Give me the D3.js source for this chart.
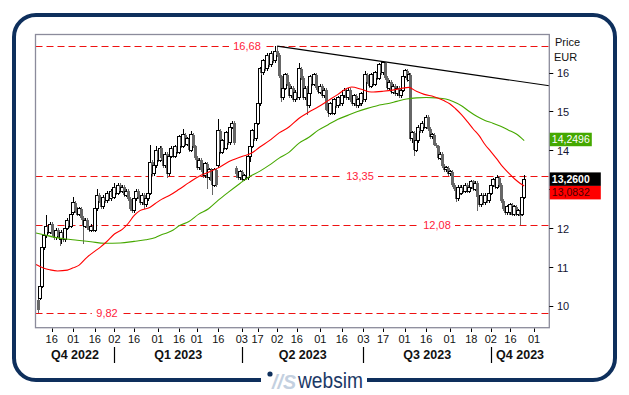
<!DOCTYPE html>
<html>
<head>
<meta charset="utf-8">
<script src="https://cdn.jsdelivr.net/npm/d3@7"></script>
<style>
body { margin: 0; background: #fff; }
svg { display: block; font-family: "Liberation Sans", Arial, sans-serif; }
</style>
</head>
<body>
<svg id="chart" width="629" height="395"></svg>
<script>
// Daily candles, one per trading day (index 0 = 7 Nov 2022 ... 248 = 24 Oct 2023)
var opens = [
  10.15,10.2,10.5,11.5,11.8,12.05,11.9,12.1,11.85,11.75,
  11.95,11.8,11.7,11.9,11.7,12.0,12.2,12.05,12.4,12.65,
  12.45,12.35,12.5,12.25,12.05,12.2,12.0,11.95,12.05,11.95,
  12.5,12.85,12.7,12.55,12.8,12.7,12.9,12.75,12.95,12.8,
  13.05,12.9,13.1,12.95,13.05,12.85,12.95,12.75,12.5,12.45,
  12.75,12.95,12.8,12.65,12.85,12.6,12.75,12.9,13.7,13.4,
  13.6,14.0,13.75,14.05,13.8,13.6,13.9,13.4,13.85,14.05,
  13.85,14.1,13.95,14.35,14.1,14.4,14.15,14.3,14.0,14.4,
  14.1,13.8,13.55,13.75,13.5,13.35,13.65,13.3,13.5,13.2,
  13.1,13.5,13.6,14.5,13.95,14.25,14.05,14.45,14.2,14.6,
  14.7,13.55,13.4,13.3,13.45,13.25,13.35,13.3,13.85,14.1,
  14.5,14.3,14.7,15.2,16.1,16.0,16.3,16.1,16.45,16.2,
  16.5,16.3,16.55,16.45,15.9,15.35,15.6,15.95,15.7,15.4,
  15.6,15.3,15.5,15.35,16.1,15.85,15.35,15.6,15.15,15.45,
  15.9,15.7,15.95,15.6,15.5,15.65,15.4,15.55,15.05,14.95,
  15.2,14.95,15.3,15.15,15.35,15.2,15.4,15.55,15.35,15.55,
  15.3,15.2,15.4,15.15,15.3,15.2,15.45,15.3,15.95,15.75,
  15.65,15.95,15.7,16.0,15.85,16.2,16.0,16.25,15.85,15.6,
  15.75,15.5,15.65,15.45,15.6,15.4,15.55,15.9,16.05,15.8,
  15.95,14.3,14.45,14.0,14.25,14.6,14.5,14.7,14.6,14.85,
  14.55,14.35,14.4,14.15,14.1,13.8,13.9,13.6,13.5,13.55,
  13.4,13.45,13.1,13.0,12.75,13.05,12.9,13.05,12.95,13.1,
  12.95,13.05,13.2,13.0,13.15,12.8,12.6,12.85,12.65,12.85,
  12.7,12.9,13.1,13.25,13.05,13.3,13.1,12.7,12.5,12.4,
  12.55,12.4,12.6,12.35,12.55,12.35,12.45,12.35,12.8
];
var highs = [
  10.2,10.55,11.55,12.0,12.34,12.1,12.15,12.15,11.95,12.0,
  12.0,11.85,11.95,11.95,12.05,12.25,12.25,12.45,12.8,12.7,
  12.55,12.55,12.55,12.3,12.25,12.25,12.05,12.1,12.1,12.55,
  13.0,12.9,12.75,12.85,12.85,12.95,12.95,13.0,13.0,13.15,
  13.1,13.15,13.15,13.1,13.1,13.0,13.0,12.8,12.6,12.8,
  13.0,13.0,12.85,12.9,12.9,12.8,12.95,14.15,13.75,13.65,
  14.1,14.05,14.1,14.1,13.85,13.95,13.95,13.9,14.1,14.1,
  14.15,14.15,14.4,14.4,14.55,14.45,14.35,14.35,14.5,14.45,
  14.15,13.85,13.8,13.8,13.55,13.7,13.7,13.55,13.55,13.25,
  13.55,13.55,14.8,14.55,14.3,14.3,14.5,14.5,14.65,14.75,
  14.75,13.6,13.45,13.5,13.5,13.4,13.4,13.9,14.15,14.55,
  14.55,14.75,15.25,16.15,16.15,16.35,16.35,16.5,16.5,16.55,
  16.55,16.68,16.68,16.5,15.95,15.65,16.0,16.0,15.75,15.65,
  15.65,15.55,15.55,16.25,16.15,15.9,15.65,15.65,15.5,15.95,
  15.95,16.0,16.0,15.65,15.7,15.7,15.6,15.6,15.1,15.25,
  15.25,15.35,15.35,15.4,15.4,15.45,15.6,15.6,15.6,15.6,
  15.35,15.45,15.45,15.35,15.35,15.5,15.5,16.05,16.0,15.8,
  16.0,16.0,16.05,16.05,16.25,16.25,16.3,16.28,15.9,15.8,
  15.8,15.7,15.7,15.65,15.65,15.6,15.95,16.1,16.1,16.0,
  16.0,14.5,14.5,14.3,14.65,14.65,14.75,14.75,14.9,14.9,
  14.6,14.45,14.45,14.2,14.15,13.95,13.95,13.65,13.6,13.6,
  13.5,13.5,13.15,13.05,13.1,13.1,13.1,13.1,13.15,13.15,
  13.1,13.25,13.25,13.2,13.2,12.85,12.9,12.9,12.9,12.9,
  12.95,13.15,13.3,13.3,13.37,13.35,13.15,12.75,12.55,12.6,
  12.6,12.65,12.65,12.6,12.6,12.5,12.5,12.85,13.37
];
var lows = [
  9.82,10.15,10.45,11.45,11.75,11.85,11.85,11.8,11.7,11.7,
  11.75,11.55,11.6,11.65,11.65,11.95,12.0,12.0,12.35,12.4,
  12.3,12.3,12.2,11.6,12.0,11.95,11.9,11.9,11.9,11.9,
  12.45,12.65,12.5,12.5,12.65,12.65,12.7,12.7,12.75,12.75,
  12.85,12.85,12.9,12.9,12.8,12.8,12.7,12.45,12.4,12.4,
  12.7,12.75,12.6,12.6,12.5,12.55,12.7,12.85,13.35,13.35,
  13.55,13.7,13.7,13.75,13.55,13.55,13.3,13.35,13.8,13.8,
  13.8,13.9,13.9,14.05,14.05,14.1,14.1,13.95,13.95,14.05,
  13.75,13.5,13.5,13.45,13.3,13.3,13.0,13.25,13.15,12.85,
  13.05,13.05,13.55,13.9,13.9,14.0,14.0,14.15,14.15,14.55,
  14.15,13.3,13.25,13.25,13.2,13.2,13.25,13.25,13.7,14.05,
  14.25,14.25,14.65,15.15,15.95,15.95,16.05,16.05,16.15,16.15,
  16.25,16.25,16.4,15.85,15.25,15.3,15.55,15.65,15.35,15.35,
  15.25,15.25,15.3,15.3,15.8,15.3,15.3,14.9,15.1,15.4,
  15.65,15.65,15.55,15.45,15.45,15.35,15.35,15.0,14.85,14.9,
  14.9,14.9,15.1,15.1,15.15,15.15,15.35,15.3,15.3,15.25,
  15.15,15.15,15.1,15.1,15.15,15.15,15.25,15.25,15.7,15.6,
  15.6,15.65,15.65,15.8,15.8,15.95,15.95,15.8,15.55,15.55,
  15.45,15.45,15.4,15.4,15.35,15.35,15.5,15.85,15.75,15.75,
  14.25,14.2,13.85,13.95,14.2,14.45,14.45,14.55,14.55,14.5,
  14.3,14.3,14.1,14.05,13.75,13.75,13.55,13.45,13.45,13.35,
  13.35,13.05,12.95,12.68,12.7,12.85,12.85,12.9,12.9,12.9,
  12.9,13.0,12.95,12.95,12.45,12.55,12.55,12.6,12.6,12.65,
  12.65,12.85,13.05,13.0,13.0,13.05,12.65,12.45,12.35,12.35,
  12.35,12.35,12.3,12.3,12.3,12.3,12.08,12.3,12.75
];
var closes = [
  9.9,10.5,11.5,11.82,12.05,11.9,12.1,11.85,11.75,11.95,
  11.8,11.7,11.9,11.7,12.0,12.2,12.05,12.35,12.65,12.45,
  12.35,12.5,12.25,12.05,12.2,12.0,11.95,12.05,11.95,12.5,
  12.85,12.7,12.55,12.8,12.7,12.9,12.75,12.95,12.8,13.05,
  12.9,13.1,12.95,13.05,12.85,12.95,12.75,12.5,12.45,12.75,
  12.95,12.8,12.65,12.85,12.6,12.75,12.9,13.7,13.4,13.6,
  14.0,13.75,14.05,13.8,13.6,13.9,13.4,13.85,14.05,13.85,
  14.1,13.95,14.35,14.1,14.4,14.15,14.3,14.0,14.4,14.1,
  13.8,13.55,13.75,13.5,13.35,13.65,13.3,13.5,13.2,13.1,
  13.5,13.1,14.5,13.95,14.25,14.05,14.45,14.2,14.6,14.7,
  14.2,13.4,13.3,13.45,13.25,13.35,13.3,13.85,14.1,14.5,
  14.3,14.7,15.2,16.1,16.0,16.3,16.1,16.45,16.2,16.5,
  16.3,16.55,16.45,15.9,15.35,15.6,15.95,15.7,15.4,15.6,
  15.3,15.5,15.35,16.1,15.85,15.35,15.6,15.15,15.45,15.9,
  15.7,15.95,15.6,15.5,15.65,15.4,15.55,15.05,14.95,15.2,
  14.95,15.3,15.15,15.35,15.2,15.4,15.55,15.35,15.55,15.3,
  15.2,15.4,15.15,15.3,15.2,15.45,15.3,15.95,15.75,15.65,
  15.95,15.7,16.0,15.85,16.2,16.0,16.25,15.85,15.6,15.75,
  15.5,15.65,15.45,15.6,15.4,15.55,15.9,16.05,15.8,15.95,
  14.3,14.45,14.0,14.25,14.6,14.5,14.7,14.6,14.85,14.55,
  14.35,14.4,14.15,14.1,13.8,13.9,13.6,13.5,13.55,13.4,
  13.45,13.1,13.0,12.75,13.05,12.9,13.05,12.95,13.1,12.95,
  13.05,13.2,13.0,13.15,12.8,12.6,12.85,12.65,12.85,12.7,
  12.9,13.1,13.25,13.05,13.3,13.1,12.7,12.5,12.4,12.55,
  12.4,12.6,12.35,12.55,12.35,12.45,12.3,12.8,13.26
];

// moving averages at these day indexes
var redIdx = [-1.3,3,6,10,15,18,21,25,28,32,35,39,43,46,49,52,57,60,63,67,72,77,82,87,92,97,104,109,113,118,123,128,133,138,143,148,153,157,160,165,170,176,181,186,189,193,197,202,207,210,213,216,219,222,225,228,231,234,237,240,243,246,248];
var redVal = [11.07,10.97,10.93,10.9,10.92,10.98,11.05,11.25,11.37,11.52,11.65,11.85,11.97,12.12,12.32,12.45,12.53,12.64,12.74,12.84,13.0,13.17,13.33,13.44,13.55,13.7,13.84,13.93,14.08,14.25,14.45,14.6,14.82,14.98,15.12,15.28,15.44,15.58,15.63,15.57,15.5,15.52,15.55,15.6,15.62,15.52,15.44,15.38,15.28,15.2,15.07,14.92,14.74,14.55,14.38,14.15,13.97,13.78,13.58,13.42,13.27,13.15,13.0832];
var greenIdx = [-1.3,3,8,14,20,27,34,42,49,55,60,63,66,69,72,77,82,87,92,97,103,108,113,118,123,128,133,138,143,148,153,158,163,168,173,178,183,188,193,198,203,208,212,216,220,224,228,232,236,240,244,248];
var greenVal = [11.88,11.83,11.77,11.72,11.69,11.65,11.61,11.62,11.66,11.7,11.76,11.83,11.88,11.95,12.06,12.17,12.36,12.5,12.72,12.92,13.15,13.33,13.46,13.62,13.8,13.95,14.18,14.33,14.52,14.66,14.8,14.9,15.0,15.08,15.15,15.2,15.26,15.32,15.35,15.36,15.35,15.32,15.25,15.15,15.0,14.87,14.77,14.7,14.62,14.52,14.42,14.2496];

// resistance trend line (start at the 16,68 top, runs to the right edge)
var trendIdx = [122, 260.8];
var trendVal = [16.68, 15.66];

// horizontal support / resistance levels
var levels = [16.68, 13.35, 12.08, 9.82];

// axis labels
var yTicks = [10, 11, 12, 13, 14, 15, 16];
var xTickIdx = [7,18,29,39,49,61,72,81,92,104,112,122,132,144,155,166,176,187,198,210,221,231,241,253];
var xTickLabels = ["16","01","16","02","16","01","16","01","16","03","17","02","16","01","16","03","17","01","16","01","18","02","16","01"];
var quarterStart = [39, 104, 166, 231];
var quarterLabels = ["Q4 2022","Q1 2023","Q2 2023","Q3 2023","Q4 2023"];

var lastClose = 13.26, lastRed = 13.0832, lastGreen = 14.2496;

// ---- layout ----
var plot = { left: 35.5, top: 34.5, right: 549.3, bottom: 327.7 };
var navy = "#0e2f5c";
var svg = d3.select("#chart");

var x = d3.scaleLinear().domain([-1.26, 260.8]).range([plot.left, plot.right]);
var y = d3.scaleLinear().domain([9.44, 16.98]).range([plot.bottom, plot.top]);
var fmt2 = function(v) { return d3.format(".2f")(v).replace(".", ","); };
var fmt4 = function(v) { return d3.format(".4f")(v).replace(".", ","); };

svg.append("rect").attr("width", 629).attr("height", 395).attr("fill", "#fff");

// outer rounded frame with a gap for the logo
var fx0 = 14, fy0 = 15, fx1 = 615, fy1 = 380, r = 22;
var fp = d3.path();
fp.moveTo(261, fy1);
fp.lineTo(fx0 + r, fy1);
fp.arcTo(fx0, fy1, fx0, fy1 - r, r);
fp.lineTo(fx0, fy0 + r);
fp.arcTo(fx0, fy0, fx0 + r, fy0, r);
fp.lineTo(fx1 - r, fy0);
fp.arcTo(fx1, fy0, fx1, fy0 + r, r);
fp.lineTo(fx1, fy1 - r);
fp.arcTo(fx1, fy1, fx1 - r, fy1, r);
fp.lineTo(367, fy1);
svg.append("path").attr("d", fp.toString()).attr("fill", "none")
  .attr("stroke", navy).attr("stroke-width", 4);

// logo
svg.append("circle").attr("cx", 270).attr("cy", 374).attr("r", 2.6).attr("fill", navy);
svg.append("text").attr("x", 272).attr("y", 389).text("//S")
  .attr("font-size", 21).attr("font-weight", "bold").attr("font-style", "italic")
  .attr("fill", "#c3d0e0").attr("textLength", 24).attr("lengthAdjust", "spacingAndGlyphs");
svg.append("text").attr("x", 298).attr("y", 388).text("websim")
  .attr("font-size", 22).attr("fill", "#1b3966")
  .attr("textLength", 65).attr("lengthAdjust", "spacingAndGlyphs");

// clip for the plot
svg.append("clipPath").attr("id", "clip").append("rect")
  .attr("x", plot.left).attr("y", plot.top)
  .attr("width", plot.right - plot.left).attr("height", plot.bottom - plot.top);

// dashed levels
var levelLabelX = [247, 360, 437, 107];
var lg = svg.append("g");
levels.forEach(function(v) {
  var yy = Math.round(y(v)) + 0.5;
  lg.append("line").attr("x1", plot.left).attr("x2", plot.right)
    .attr("y1", yy).attr("y2", yy)
    .attr("stroke", "#ee1111").attr("stroke-width", 1).attr("stroke-dasharray", "7,4");
});

// candles
var cg = svg.append("g").attr("clip-path", "url(#clip)").attr("shape-rendering", "crispEdges");
var days = d3.range(closes.length);
var candle = cg.selectAll("g.c").data(days).join("g").attr("class", "c");
candle.append("line")
  .attr("x1", function(i) { return Math.round(x(i)) + 0.5; })
  .attr("x2", function(i) { return Math.round(x(i)) + 0.5; })
  .attr("y1", function(i) { return y(highs[i]); })
  .attr("y2", function(i) { return y(lows[i]); })
  .attr("stroke", function(i) { return closes[i] >= opens[i] ? "#000" : "#666"; });
candle.append("rect")
  .attr("x", function(i) { return closes[i] >= opens[i] ? Math.round(x(i)) - 1.5 : Math.round(x(i)) - 1; })
  .attr("width", 3)
  .attr("y", function(i) { return y(Math.max(opens[i], closes[i])); })
  .attr("height", function(i) { return Math.max(1, Math.abs(y(opens[i]) - y(closes[i]))); })
  .attr("fill", function(i) { return closes[i] >= opens[i] ? "#fff" : "#666"; })
  .attr("stroke", function(i) { return closes[i] >= opens[i] ? "#000" : "none"; })
  .attr("stroke-width", 1);

// level labels on white patches
levels.forEach(function(v, i) {
  var t = fmt2(v);
  var w = t.length * 5.6 + 8;
  lg.append("rect").attr("x", levelLabelX[i] - w / 2).attr("y", y(v) - 5)
    .attr("width", w).attr("height", 10).attr("fill", "#fff");
  lg.append("text").attr("x", levelLabelX[i]).attr("y", y(v) + 4)
    .attr("text-anchor", "middle").attr("font-size", 11).attr("fill", "#ff1a3a").text(t);
});
lg.raise();
cg.raise();

// moving averages and trend line
var line = d3.line().x(function(d) { return x(d[0]); }).y(function(d) { return y(d[1]); });
var mg = svg.append("g").attr("clip-path", "url(#clip)");
mg.append("path").attr("d", line.curve(d3.curveMonotoneX)(d3.zip(greenIdx, greenVal)))
  .attr("fill", "none").attr("stroke", "#46a800").attr("stroke-width", 1.1);
mg.append("path").attr("d", line.curve(d3.curveMonotoneX)(d3.zip(redIdx, redVal)))
  .attr("fill", "none").attr("stroke", "#f00").attr("stroke-width", 1.1);
mg.append("path").attr("d", line.curve(d3.curveLinear)(d3.zip(trendIdx, trendVal)))
  .attr("fill", "none").attr("stroke", "#000").attr("stroke-width", 1.1);

// plot border
svg.append("rect").attr("x", plot.left).attr("y", plot.top)
  .attr("width", plot.right - plot.left).attr("height", plot.bottom - plot.top)
  .attr("fill", "none").attr("stroke", "#8b8b9b").attr("stroke-width", 1.3);

// value boxes on the right axis (black = last price, red / green = averages)
var bh = 13.5;
var bBlack = y(lastClose) - bh / 2;
var bRed = Math.max(y(lastRed) - bh / 2, bBlack + bh);
var boxes = [
  { v: lastGreen, top: y(lastGreen) - bh / 2 - 1.2, w: 42, fill: "#44a800", color: "#fff", bold: false },
  { v: lastClose, top: bBlack, w: 51, fill: "#000", color: "#fff", bold: true },
  { v: lastRed, top: bRed, w: 51, fill: "#ff0000", color: "#4a0000", bold: false }
];

// right axis: a tick label is left out where a value box covers it
var ya = svg.append("g");
ya.selectAll("line").data(yTicks).join("line")
  .attr("x1", plot.right).attr("x2", plot.right + 4)
  .attr("y1", function(d) { return Math.round(y(d)) + 0.5; })
  .attr("y2", function(d) { return Math.round(y(d)) + 0.5; })
  .attr("stroke", "#000");
var shownTicks = yTicks.filter(function(d) {
  return !boxes.some(function(b) { return y(d) > b.top && y(d) < b.top + bh; });
});
ya.selectAll("text").data(shownTicks).join("text")
  .attr("x", 557).attr("y", function(d) { return y(d) + 4.5; })
  .attr("font-size", 11).attr("fill", "#141432").text(function(d) { return d; });
svg.append("text").attr("x", 555).attr("y", 46).attr("font-size", 11).attr("fill", "#111").text("Price");
svg.append("text").attr("x", 554).attr("y", 61).attr("font-size", 11).attr("fill", "#111").text("EUR");

var bx = svg.selectAll("g.box").data(boxes).join("g").attr("class", "box");
bx.append("rect").attr("x", plot.right + 0.5).attr("y", function(d) { return d.top; })
  .attr("width", function(d) { return d.w; }).attr("height", bh)
  .attr("fill", function(d) { return d.fill; });
bx.append("text").attr("x", plot.right + 2.5).attr("y", function(d) { return d.top + 10.3; })
  .attr("font-size", 10.5).attr("font-weight", function(d) { return d.bold ? "bold" : "normal"; })
  .attr("fill", function(d) { return d.color; })
  .text(function(d) { return fmt4(d.v); });

// bottom axis
var xa = svg.append("g");
xa.selectAll("line").data(xTickIdx).join("line")
  .attr("x1", function(d) { return Math.round(x(d)) + 0.5; })
  .attr("x2", function(d) { return Math.round(x(d)) + 0.5; })
  .attr("y1", 328.5).attr("y2", 332).attr("stroke", "#000");
xa.selectAll("text").data(xTickIdx).join("text")
  .attr("x", function(d) { return x(d); }).attr("y", 343)
  .attr("text-anchor", "middle").attr("font-size", 11).attr("fill", "#111")
  .text(function(d, i) { return xTickLabels[i]; });

var qEdges = [x.domain()[0]].concat(quarterStart, [x.domain()[1]]);
svg.selectAll("line.qsep").data(quarterStart).join("line").attr("class", "qsep")
  .attr("x1", function(d) { return Math.round(x(d)) + 0.5; })
  .attr("x2", function(d) { return Math.round(x(d)) + 0.5; })
  .attr("y1", 347).attr("y2", 363).attr("stroke", "#000").attr("stroke-width", 1.2);
svg.selectAll("text.q").data(quarterLabels).join("text").attr("class", "q")
  .attr("x", function(d, i) { return (x(qEdges[i]) + x(qEdges[i + 1])) / 2; })
  .attr("y", 359).attr("text-anchor", "middle")
  .attr("font-size", 12.5).attr("font-weight", "bold").attr("fill", "#111")
  .text(function(d) { return d; });
</script>
</body>
</html>
